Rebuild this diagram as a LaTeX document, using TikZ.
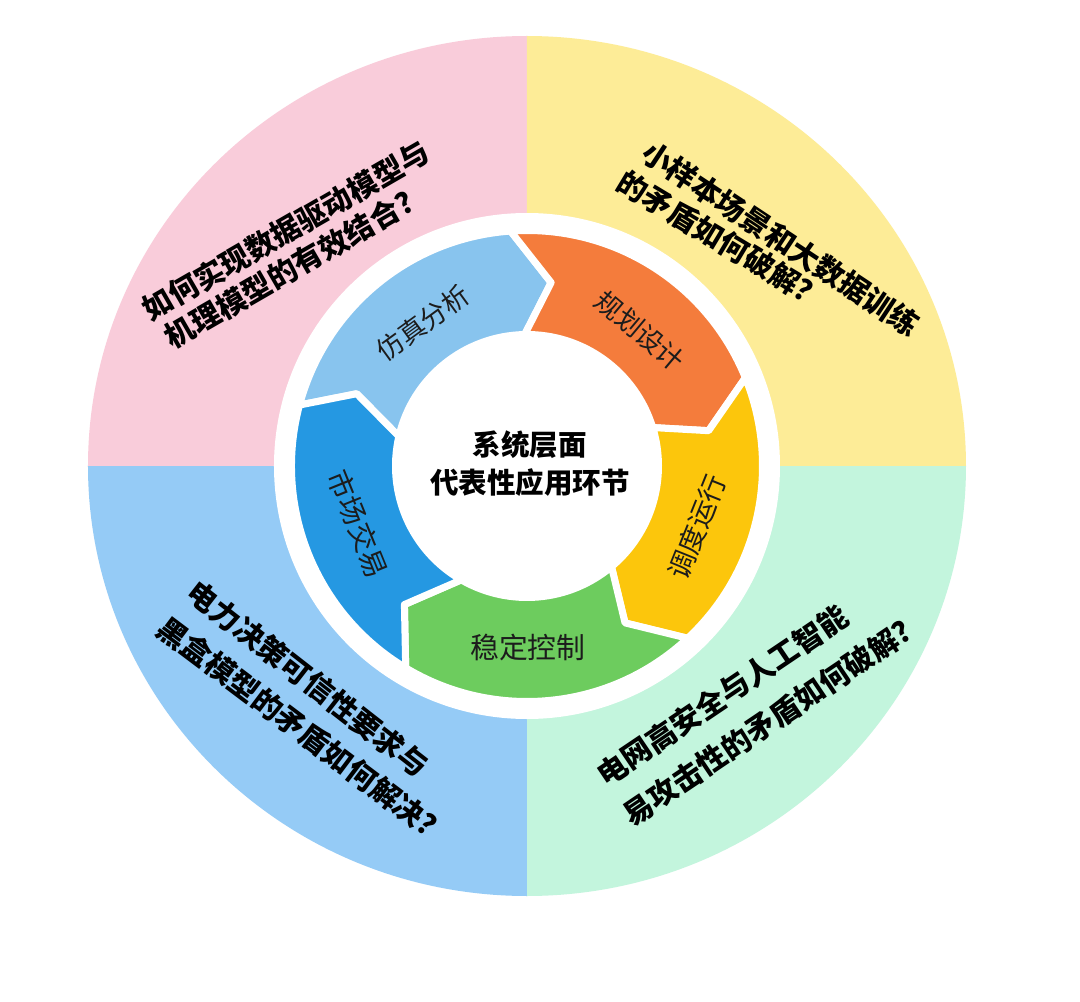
\documentclass[tikz,border=0pt]{standalone}
\usepackage{fontspec}
\setmainfont{Noto Sans CJK SC}
\definecolor{qpink}{HTML}{F9CCDA}
\definecolor{qyellow}{HTML}{FDEC97}
\definecolor{qblue}{HTML}{95CBF6}
\definecolor{qgreen}{HTML}{C3F5DD}
\definecolor{sblue}{HTML}{88C4EE}
\definecolor{sorange}{HTML}{F47C3C}
\definecolor{sgold}{HTML}{FCC60C}
\definecolor{sgreen}{HTML}{6DCC5E}
\definecolor{sdblue}{HTML}{2598E2}
\definecolor{txt}{HTML}{1C1C1C}
\tikzset{
  seg/.style={draw=white, line width=0.175cm, line join=round},
  qtext/.style={font=\fontsize{21}{25}\selectfont\bfseries, anchor=west, inner sep=0pt,
                text height=18.5pt, text depth=2.5pt, text=black},
  rlabel/.style={inner sep=0pt, text=txt},
  ctext/.style={font=\fontsize{20.3}{27}\selectfont\bfseries, align=center, text=black, inner sep=0pt}
}
\newcommand\ringseg[7]{%
  \path[seg, fill=#1] (#2:235.5) arc[start angle=#2, end angle=#3, radius=235.5]
    -- (#4:185) -- (#5:131.5) arc[start angle=#5, end angle=#6, radius=131.5]
    -- (#7:185) -- cycle;}
\begin{document}
\begin{tikzpicture}[x=0.025cm,y=0.025cm]
\useasboundingbox[fill=white] (-527,-535) rectangle (553,466);
% quadrants
\fill[qpink] (0,0) -- (-439,0) arc[start angle=180, end angle=90, x radius=439, y radius=430] -- cycle;
\fill[qyellow] (0,0) -- (0,430) arc[start angle=90, end angle=0, x radius=439, y radius=430] -- cycle;
\fill[qgreen] (0,0) -- (439,0) arc[start angle=0, end angle=-90, x radius=439, y radius=430] -- cycle;
\fill[qblue] (0,0) -- (0,-430) arc[start angle=270, end angle=180, x radius=439, y radius=430] -- cycle;
% white disc
\fill[white] (0,0) circle[radius=253];
% ring segments (clockwise)
\ringseg{sblue}{165}{94}{82.5}{91}{167}{157}
\ringseg{sorange}{94}{22}{11}{17}{91}{82.5}
\ringseg{sgold}{22}{-47}{-58}{-50}{17}{11}
\ringseg{sgreen}{-47}{-121}{-131.5}{-120}{-50}{-58}
\ringseg{sdblue}{-121}{-195}{-203}{-193}{-120}{-131.5}
% ring labels
\node[rlabel, font=\fontsize{19}{19}\selectfont, rotate=36] (fz) at (-104,143) {仿真分析};
\node[rlabel, font=\fontsize{19}{19}\selectfont, rotate=-40] (gh) at (113,135) {规划设计};
\node[rlabel, font=\fontsize{19.5}{19.5}\selectfont, rotate=68] (dd) at (170,-61) {调度运行};
\node[rlabel, font=\fontsize{20.5}{20.5}\selectfont] (wd) at (1,-181) {稳定控制};
\node[rlabel, font=\fontsize{20}{20}\selectfont, rotate=-68] (sc) at (-169,-58) {市场交易};
% centre text
\node[ctext] (ctr) at (3,2) {系统层面\\代表性应用环节};
% quadrant questions
\node[qtext, rotate=30] (p1) at (-382,154) {如何实现数据驱动模型与};
\node[qtext, rotate=30] (p2) at (-360,126) {机理模型的有效结合？};
\node[qtext, rotate=-33.5] (y1) at (118,317) {小样本场景和大数据训练};
\node[qtext, rotate=-31] (y2) at (93,287) {的矛盾如何破解？};
\node[qtext, rotate=-38] (b1) at (-335.6,-121.9) {电力决策可信性要求与};
\node[qtext, rotate=-37] (b2) at (-365.6,-157.9) {黑盒模型的矛盾如何解决？};
\node[qtext, rotate=34] (g1) at (72.8,-312.2) {电网高安全与人工智能};
\node[qtext, rotate=34] (g2) at (98.8,-352.2) {易攻击性的矛盾如何破解？};
\end{tikzpicture}
\end{document}
